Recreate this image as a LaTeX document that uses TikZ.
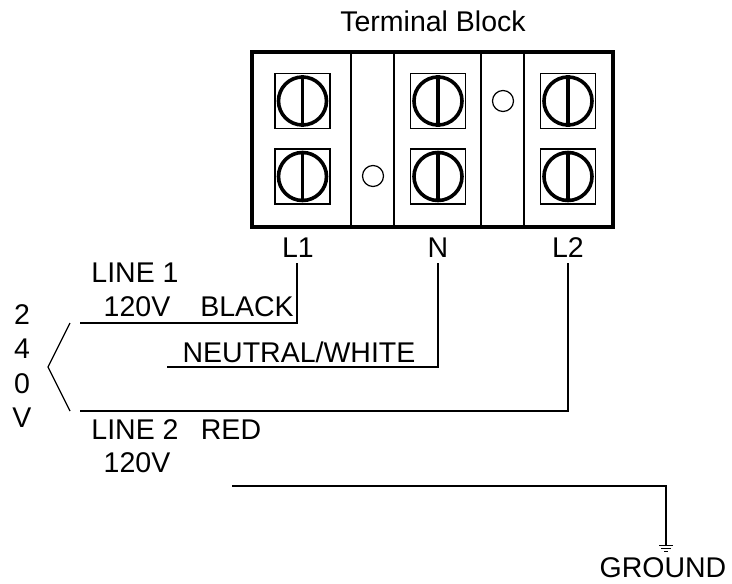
\documentclass[tikz,border=0pt]{standalone}
\usepackage{fontspec}
\setmainfont{Liberation Sans}
\tikzset{
    wire/.style = {draw=black, line width=1.3pt},
    screw-box/.style = {draw=black, line width=1.1pt, rectangle, minimum size=55pt, inner sep=0pt},
    screw-head/.style = {draw=black, line width=3.6pt, circle, minimum size=48pt, inner sep=0pt},
    label-text/.style = {font=\fontsize{28.5}{34}\selectfont, inner sep=0pt},
}

\begin{document}
\begin{tikzpicture}[x=1pt,y=-1pt]
\useasboundingbox (0,0) rectangle (732,584);
\node[label-text] (title) at (433,21) {Terminal Block};
% block body and dividers
\draw[line width=4pt] (252,52) rectangle (613,227);
\foreach \xd in {351,394,481,524}
    \draw[line width=1.1pt] (\xd,52) -- (\xd,227);
% screws
\foreach \xs/\nm in {302.5/a,438/b,568/c}{
    \foreach \ys/\rw in {101/t,176.5/u}{
        \node[screw-box] (box-\nm\rw) at (\xs,\ys) {};
        \node[screw-head] (screw-\nm\rw) at (\xs,\ys) {};
        \draw[line width=3.6pt] (screw-\nm\rw.north) -- (screw-\nm\rw.south);
    }
}
\node[draw, circle, line width=1.2pt, minimum size=21pt, inner sep=0pt] (hole-1) at (373,176) {};
\node[draw, circle, line width=1.2pt, minimum size=21pt, inner sep=0pt] (hole-2) at (503,101) {};
% terminal labels
\node[label-text] (l1) at (298,248) {L1};
\node[label-text] (n) at (438,248) {N};
\node[label-text] (l2) at (568,248) {L2};
% wires
\coordinate (l1-end) at (80,323);
\coordinate (n-end) at (167,367);
\coordinate (l2-end) at (80,411);
\coordinate (gnd-start) at (232,486);
\coordinate (gnd) at (666,545);
\draw[wire] (l1.south -| 297,0) ++(0,5) |- (l1-end);
\draw[wire] (n.south) ++(0,5) |- (n-end);
\draw[wire] (l2.south) ++(0,5) |- (l2-end);
\draw[wire] (gnd-start) -| (gnd);
\draw[line width=1.3pt] (659,545.5) -- (673,545.5)
    (661,548.5) -- (671,548.5) (664,551.5) -- (668,551.5);
\node[label-text] (ground) at (663,568) {GROUND};
% 240V bracket
\draw[line width=1.2pt] (70,323) -- (48,367) -- (70,411);
\node[label-text] (v2) at (22,315) {2};
\node[label-text] (v4) at (22,349) {4};
\node[label-text] (v0) at (22,384) {0};
\node[label-text] (vv) at (22,418) {V};
% wire labels
\node[label-text] (line1) at (135,273) {LINE 1};
\node[label-text] (line1-v) at (137,307) {120V};
\node[label-text] (black) at (247,307) {BLACK};
\node[label-text] (neutral) at (299,352) {NEUTRAL/WHITE};
\node[label-text] (line2) at (135,430) {LINE 2};
\node[label-text] (red) at (231,430) {RED};
\node[label-text] (line2-v) at (137,463) {120V};
\end{tikzpicture}
\end{document}
